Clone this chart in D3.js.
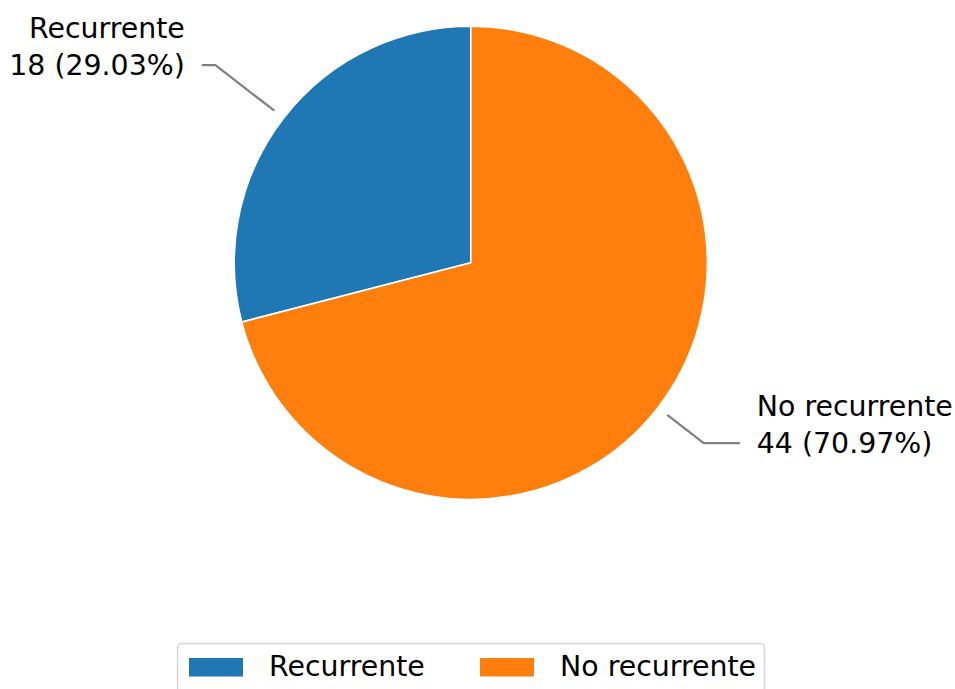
<!DOCTYPE html>
<html>
<head>
<meta charset="utf-8">
<script src="https://cdn.jsdelivr.net/npm/d3@7"></script>
<style>
  body { margin: 0; background: #fff; }
  text { font-family: "DejaVu Sans", sans-serif; }
</style>
</head>
<body>
<div id="chart"></div>
<script>
const categories = ["Recurrente", "No recurrente"];
const counts = [18, 44];
const colors = ["#1f77b4", "#ff7f0e"];

const width = 955, height = 689;
const cx = 470.8, cy = 262.8, radius = 236.6;
const fontSize = 28.4, lineGap = 37.3;
// radial distance of the leader-line elbow, per slice
const elbowFactor = [1.365, 1.245];

const svg = d3.select("#chart").append("svg")
    .attr("width", width)
    .attr("height", height)
    .attr("viewBox", `0 0 ${width} ${height}`);

const total = d3.sum(counts);
const start = -2 * Math.PI * counts[0] / total;

const pie = d3.pie()
    .sort(null)
    .value(d => d)
    .startAngle(start)
    .endAngle(start + 2 * Math.PI);

const arc = d3.arc().innerRadius(0).outerRadius(radius);
const arcs = pie(counts);

const g = svg.append("g").attr("transform", `translate(${cx},${cy})`);

g.selectAll("path.slice")
    .data(arcs)
    .join("path")
    .attr("class", "slice")
    .attr("d", arc)
    .attr("fill", (d, i) => colors[i])
    .attr("stroke", "#fff")
    .attr("stroke-width", 1.6)
    .attr("stroke-linejoin", "round");

// labels with leader lines
arcs.forEach((a, i) => {
    const mid = (a.startAngle + a.endAngle) / 2;
    const sx = Math.sin(mid), sy = -Math.cos(mid);
    const side = sx < 0 ? -1 : 1;
    const p0 = [sx * radius * 1.05, sy * radius * 1.05];
    const p1 = [sx * radius * elbowFactor[i], sy * radius * elbowFactor[i]];
    const p2 = [side * radius * 1.137, p1[1]];

    g.append("polyline")
        .attr("points", [p0, p1, p2].map(p => p.join(",")).join(" "))
        .attr("fill", "none")
        .attr("stroke", "#808080")
        .attr("stroke-width", 2.2);

    const pct = (100 * counts[i] / total).toFixed(2);
    const t = g.append("text")
        .attr("text-anchor", side < 0 ? "end" : "start")
        .attr("font-size", fontSize)
        .attr("fill", "#000");
    const tx = p2[0] + side * 17;
    t.append("tspan").attr("x", tx).attr("y", p2[1] + 10 - lineGap).text(categories[i]);
    t.append("tspan").attr("x", tx).attr("y", p2[1] + 10).text(`${counts[i]} (${pct}%)`);
});

// legend
const legend = svg.append("g").attr("class", "legend");
legend.append("rect")
    .attr("x", 177.5).attr("y", 643.5)
    .attr("width", 587).attr("height", 70)
    .attr("rx", 4)
    .attr("fill", "#fff")
    .attr("stroke", "#d6d6d6")
    .attr("stroke-width", 1.5);

const itemX = [189, 480];
categories.forEach((c, i) => {
    legend.append("rect")
        .attr("x", itemX[i]).attr("y", 658)
        .attr("width", 54).attr("height", 18.5)
        .attr("fill", colors[i]);
    legend.append("text")
        .attr("x", itemX[i] + 80).attr("y", 676)
        .attr("font-size", fontSize)
        .text(c);
});
</script>
</body>
</html>
